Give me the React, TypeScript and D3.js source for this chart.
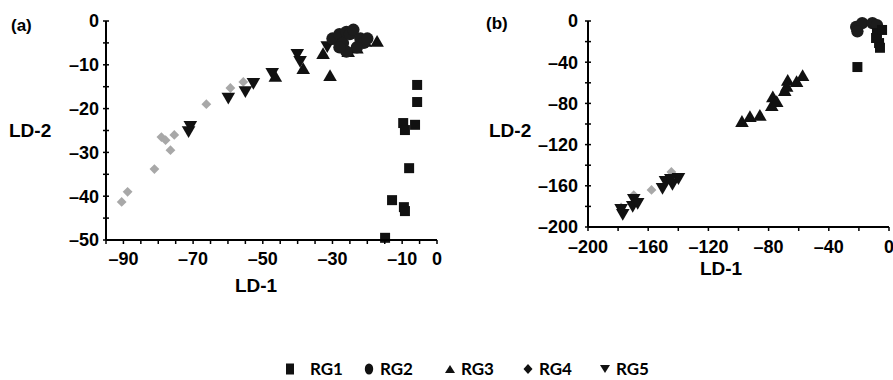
import * as d3 from "d3";

type Pt = [number, number];

// panel (a) values
const a_RG1: Pt[] = [
    [-5.7, -14.6], [-5.7, -18.5], [-9.7, -23.3], [-6.3, -23.7], [-9.2, -24.9],
    [-8, -33.6], [-12.9, -40.9], [-9.5, -42.5], [-9.2, -43.4], [-14.9, -49.5],
];
const a_RG2: Pt[] = [
    [-30, -4], [-28, -3], [-27, -5], [-26, -2.5], [-25, -3], [-24, -2],
    [-22, -4], [-21, -5], [-23, -6], [-26, -7], [-28, -6], [-20, -4],
];
const a_RG3: Pt[] = [
    [-32.7, -7.8], [-30.7, -12.8], [-25.5, -7.3], [-20.6, -5], [-17.2, -5],
    [-38.4, -11.2], [-46.4, -13], [-29, -4.5], [-23, -6.5],
];
const a_RG4: Pt[] = [
    [-90.5, -41.3], [-88.8, -39], [-81.1, -33.8], [-79.1, -26.5], [-77.9, -27.2],
    [-76.5, -29.5], [-75.4, -26], [-66.2, -19], [-59.3, -15.3], [-55.6, -13.9],
];
const a_RG5: Pt[] = [
    [-70.8, -23.7], [-71.3, -24.9], [-59.9, -17.3], [-55, -15.8], [-52.7, -13.9],
    [-47.3, -11.6], [-40.1, -7.3], [-39.3, -8.9], [-31.5, -5.5],
];

// panel (b)
const b_RG1: Pt[] = [
    [-21, -44.7], [-8, -11.7], [-6.6, -21.4], [-8.6, -16.5], [-4.6, -8.7], [-6, -26],
];
const b_RG2: Pt[] = [
    [-21.8, -5.8], [-17.8, -2], [-11, -2], [-8, -4], [-21, -10],
];
const b_RG3: Pt[] = [
    [-97.7, -99], [-92.4, -94.2], [-85.8, -93], [-77.9, -83.5], [-77.2, -75],
    [-74.6, -79.6], [-69.3, -68.9], [-67.3, -59], [-61.4, -60.2], [-57.4, -54.4], [-68, -65],
];
const b_RG4: Pt[] = [
    [-178, -181], [-157.8, -164], [-144.6, -146.6], [-169.6, -169],
];
const b_RG5: Pt[] = [
    [-176.9, -186.4], [-178, -181.6], [-170.3, -178.6], [-169.6, -171.8], [-167, -175.7],
    [-150.5, -161], [-148.5, -154.4], [-143.9, -157.3], [-139.9, -151.5], [-145, -152.4],
];

const a_xTicks = [-90, -70, -50, -30, -10, 0];
const a_yTicks = [0, -10, -20, -30, -40, -50];
const b_xTicks = [-200, -160, -120, -80, -40, 0];
const b_yTicks = [0, -40, -80, -120, -160, -200];

const groups = ["RG1", "RG2", "RG3", "RG4", "RG5"];

const BLACK = "#111";
const GRAY = "#a8a8a8";
const FONT = "Liberation Sans, Arial, sans-serif";

const sym = {
    RG1: d3.symbol(d3.symbolSquare, 100)()!,
    RG2: d3.symbol(d3.symbolCircle, 120)()!,
    RG3: d3.symbol(d3.symbolTriangle, 80)()!,
    RG4: d3.symbol(d3.symbolSquare, 48)()!,
    RG5: d3.symbol(d3.symbolTriangle, 80)()!,
};
const rot: Record<string, number> = { RG1: 0, RG2: 0, RG3: 0, RG4: 45, RG5: 180 };
const fill: Record<string, string> = { RG1: BLACK, RG2: "#1c1c1c", RG3: BLACK, RG4: GRAY, RG5: BLACK };

const dash = (v: number) => (v < 0 ? "\u2013" + Math.abs(v) : String(v));

type PanelProps = {
    label: string;
    xDomain: [number, number];
    xRange: [number, number];
    yDomain: [number, number];
    yRange: [number, number];
    xStep: number;
    yStep: number;
    xTicks: number[];
    yTicks: number[];
    series: Record<string, Pt[]>;
    labelPos: Pt;
    ld2Pos: Pt;
    ld1Pos: Pt;
    xLabelY: number;
    yLabelGap: number;
};

const Panel = (p: PanelProps) => {
    const x = d3.scaleLinear().domain(p.xDomain).range(p.xRange);
    const y = d3.scaleLinear().domain(p.yDomain).range(p.yRange);
    const x0 = p.xRange[0];
    const y0 = p.yRange[0];
    const minorX = d3.range(p.xDomain[0], p.xDomain[1] + 0.001, p.xStep);
    const minorY = d3.range(p.yDomain[0], p.yDomain[1] + 0.001, p.yStep);
    const order = ["RG4", "RG5", "RG3", "RG2", "RG1"];
    return (
        <g>
            <text x={p.labelPos[0]} y={p.labelPos[1]} fontFamily={FONT} fontWeight="bold" fontSize={17}>{p.label}</text>
            {order.map((g) =>
                p.series[g].map((d, i) => (
                    <path key={g + i} d={sym[g as keyof typeof sym]} fill={fill[g]}
                        transform={`translate(${x(d[0])},${y(d[1])}) rotate(${rot[g]})`} />
                ))
            )}
            <line x1={x0} x2={x0} y1={p.yRange[1]} y2={y0} stroke="#000" strokeWidth={2} />
            <line x1={x0} x2={p.xRange[1]} y1={y0} y2={y0} stroke="#000" strokeWidth={2} />
            {minorY.map((v) => (
                <line key={"ty" + v} x1={x0 - 3} x2={x0 + 3} y1={y(v)} y2={y(v)} stroke="#000" strokeWidth={1.5} />
            ))}
            {minorX.map((v) => (
                <line key={"tx" + v} x1={x(v)} x2={x(v)} y1={y0} y2={y0 + 4} stroke="#000" strokeWidth={1.5} />
            ))}
            {p.yTicks.map((v) => (
                <text key={"ly" + v} x={x0 - p.yLabelGap} y={y(v)} dy="0.36em" textAnchor="end"
                    fontFamily={FONT} fontWeight="bold" fontSize={18}>{dash(v)}</text>
            ))}
            {p.xTicks.map((v) => (
                <text key={"lx" + v} x={x(v)} y={p.xLabelY} textAnchor="middle"
                    fontFamily={FONT} fontWeight="bold" fontSize={18}>{dash(v)}</text>
            ))}
            <text x={p.ld2Pos[0]} y={p.ld2Pos[1]} fontFamily={FONT} fontWeight="bold" fontSize={19}>LD-2</text>
            <text x={p.ld1Pos[0]} y={p.ld1Pos[1]} textAnchor="middle" fontFamily={FONT} fontWeight="bold" fontSize={19}>LD-1</text>
        </g>
    );
};

const legendX = [290, 369, 450, 528, 605];

const LegendMark = ({ g, cx, cy }: { g: string; cx: number; cy: number }) => {
    if (g === "RG1") return <rect x={cx - 4} y={cy - 5.5} width={8} height={11} fill={BLACK} />;
    if (g === "RG2") return <ellipse cx={cx} cy={cy} rx={4.2} ry={5.5} fill={BLACK} />;
    if (g === "RG3") return <path d={`M${cx - 5},${cy + 4}L${cx + 5},${cy + 4}L${cx},${cy - 4}Z`} fill={BLACK} />;
    if (g === "RG4") return <path d={`M${cx},${cy - 5}L${cx + 4.5},${cy}L${cx},${cy + 5}L${cx - 4.5},${cy}Z`} fill={BLACK} />;
    return <path d={`M${cx - 5},${cy - 4}L${cx + 5},${cy - 4}L${cx},${cy + 4}Z`} fill={BLACK} />;
};

export default function App() {
    return (
        <svg width={893} height={380} style={{ position: "absolute", left: 0, top: 0, background: "#fff" }}>
            <Panel label="(a)" xDomain={[-95, 0]} xRange={[106, 437]} yDomain={[-50, 0]} yRange={[240, 21]}
                xStep={5} yStep={5} xTicks={a_xTicks} yTicks={a_yTicks}
                series={{ RG1: a_RG1, RG2: a_RG2, RG3: a_RG3, RG4: a_RG4, RG5: a_RG5 }}
                labelPos={[11, 31]} ld2Pos={[9, 137]} ld1Pos={[256, 292]} xLabelY={265} yLabelGap={7} />
            <Panel label="(b)" xDomain={[-200, 0]} xRange={[588, 889]} yDomain={[-200, 0]} yRange={[227, 21]}
                xStep={20} yStep={20} xTicks={b_xTicks} yTicks={b_yTicks}
                series={{ RG1: b_RG1, RG2: b_RG2, RG3: b_RG3, RG4: b_RG4, RG5: b_RG5 }}
                labelPos={[486, 29]} ld2Pos={[489, 137]} ld1Pos={[721, 275]} xLabelY={253} yLabelGap={10} />
            {groups.map((g, i) => (
                <g key={g}>
                    <LegendMark g={g} cx={legendX[i]} cy={369} />
                    <text x={legendX[i] + (i === 0 ? 20 : 11)} y={375} fontFamily="Lato, Open Sans, sans-serif"
                        fontWeight="bold" fontSize={17}>{g}</text>
                </g>
            ))}
        </svg>
    );
}
